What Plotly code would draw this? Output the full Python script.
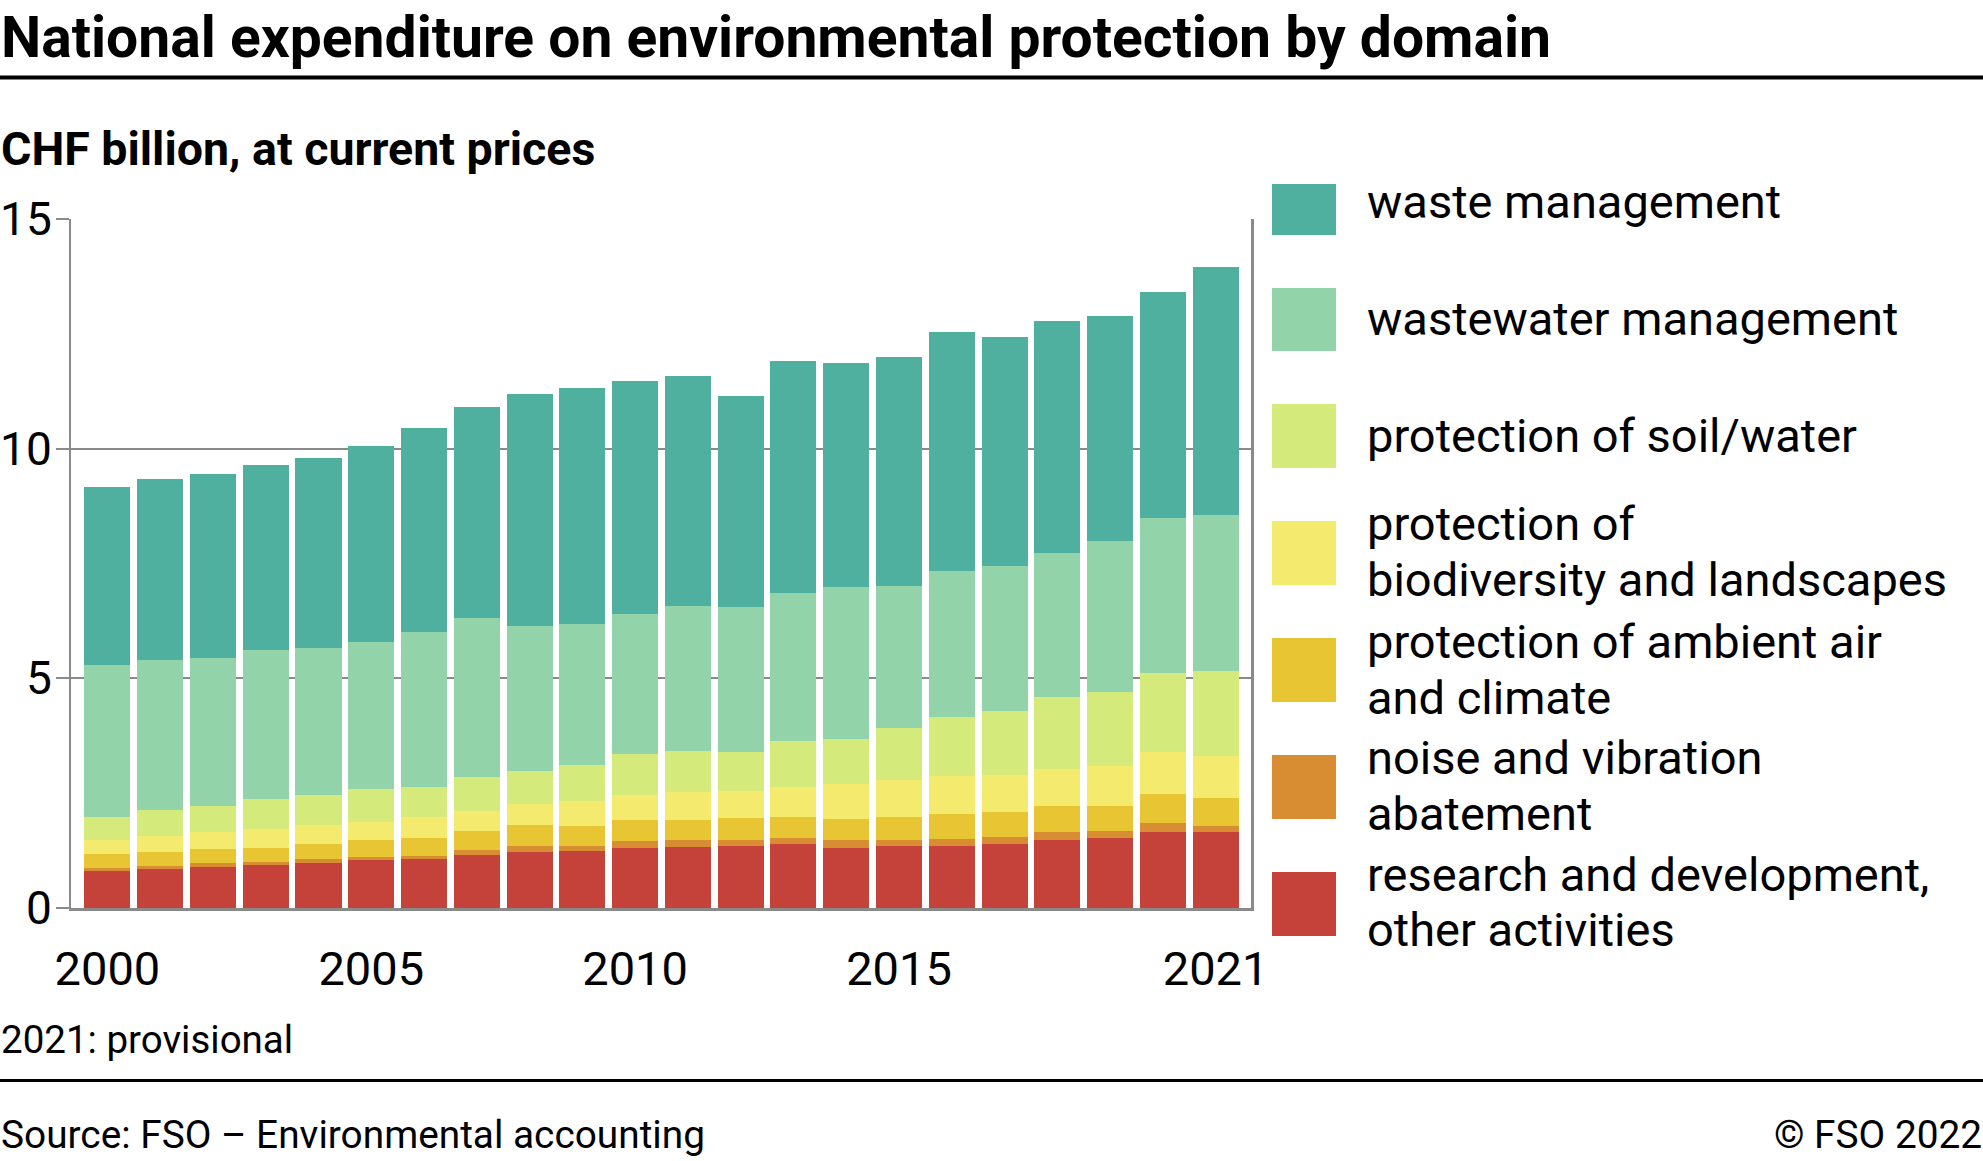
import plotly.graph_objects as go

years = list(range(2000, 2022))

rd = [0.81, 0.86, 0.89, 0.93, 0.99, 1.04, 1.06, 1.16, 1.23, 1.25, 1.31,
      1.32, 1.34, 1.39, 1.30, 1.34, 1.34, 1.39, 1.49, 1.52, 1.65, 1.65]
noise = [0.06, 0.06, 0.08, 0.07, 0.07, 0.07, 0.08, 0.10, 0.11, 0.11, 0.14,
         0.15, 0.15, 0.14, 0.17, 0.15, 0.17, 0.16, 0.17, 0.16, 0.19, 0.14]
air = [0.31, 0.31, 0.32, 0.31, 0.34, 0.36, 0.39, 0.42, 0.47, 0.43, 0.47,
       0.45, 0.48, 0.46, 0.47, 0.50, 0.54, 0.55, 0.55, 0.53, 0.65, 0.61]
biodiv = [0.31, 0.34, 0.37, 0.40, 0.41, 0.41, 0.46, 0.44, 0.46, 0.55, 0.55,
          0.61, 0.58, 0.65, 0.75, 0.80, 0.83, 0.80, 0.82, 0.89, 0.90, 0.90]
soil = [0.50, 0.57, 0.55, 0.67, 0.66, 0.70, 0.65, 0.74, 0.72, 0.78, 0.89,
        0.88, 0.84, 0.99, 1.00, 1.12, 1.28, 1.39, 1.57, 1.61, 1.73, 1.85]
wastewater = [3.30, 3.26, 3.23, 3.24, 3.19, 3.21, 3.37, 3.45, 3.15, 3.06, 3.04,
              3.17, 3.16, 3.23, 3.30, 3.10, 3.18, 3.16, 3.13, 3.28, 3.37, 3.41]
waste = [3.88, 3.94, 4.01, 4.02, 4.14, 4.27, 4.44, 4.60, 5.05, 5.14, 5.07,
         5.00, 4.60, 5.05, 4.88, 4.99, 5.20, 4.98, 5.05, 4.90, 4.92, 5.40]

# bottom -> top stacking order; legend labels split into their printed lines
series_names = [
    "research and development, other activities",
    "noise and vibration abatement",
    "protection of ambient air and climate",
    "protection of biodiversity and landscapes",
    "protection of soil/water",
    "wastewater management",
    "waste management",
]
legend_lines = [
    ["research and development,", "other activities"],
    ["noise and vibration", "abatement"],
    ["protection of ambient air", "and climate"],
    ["protection of", "biodiversity and landscapes"],
    ["protection of soil/water"],
    ["wastewater management"],
    ["waste management"],
]
series_values = [rd, noise, air, biodiv, soil, wastewater, waste]
series_colors = ["#C4423A", "#D98D33", "#E8C532", "#F3EA6E", "#D4EA7B", "#93D3A9", "#50B09F"]

x_ticks = [2000, 2005, 2010, 2015, 2021]

W, H = 1983, 1161
L, R, T, B = 71, 1252, 219, 908


def xp(px):
    return (px - L) / (R - L)


def yp(py):
    return (B - py) / (B - T)


fig = go.Figure()
for name, vals, col in zip(series_names, series_values, series_colors):
    fig.add_trace(go.Bar(x=years, y=vals, name=name, marker_color=col,
                         marker_line_width=0, showlegend=False))

FONT = "Roboto"
fig.update_layout(
    width=W, height=H,
    barmode="stack", bargap=0.128,
    margin=dict(l=L, r=W - R, t=T, b=H - B, pad=0),
    paper_bgcolor="white", plot_bgcolor="white",
    font=dict(family=FONT, color="black", size=47),
    xaxis=dict(range=[1999.31, 2021.69], tickvals=x_ticks,
               ticktext=[str(v) for v in x_ticks], ticks="",
               tickfont=dict(size=47), showline=True, linecolor="#8a8a8a",
               linewidth=3, mirror=False, showgrid=False, zeroline=False,
               ticklabelstandoff=18, automargin=False),
    yaxis=dict(range=[0, 15], tickvals=[0, 5, 10, 15], ticks="outside",
               ticklen=13, tickwidth=2, tickcolor="#8a8a8a",
               tickfont=dict(size=46), showline=True, linecolor="#8a8a8a",
               linewidth=2, mirror=True, showgrid=True, gridcolor="#8a8a8a",
               gridwidth=2, zeroline=False, ticklabelstandoff=-5,
               automargin=False),
)

shapes = []
annotations = []

shapes.append(dict(type="line", xref="paper", yref="paper", x0=xp(0), x1=xp(W),
                   y0=yp(77.5), y1=yp(77.5), line=dict(color="black", width=4)))
shapes.append(dict(type="line", xref="paper", yref="paper", x0=xp(0), x1=xp(W),
                   y0=yp(1080.5), y1=yp(1080.5), line=dict(color="black", width=3)))
shapes.append(dict(type="line", xref="paper", yref="paper", x0=1, x1=1,
                   y0=0, y1=1, line=dict(color="#8a8a8a", width=2)))


def text(t, px, py_base, size, bold=False, xanchor="left"):
    annotations.append(dict(text=t, xref="paper", yref="paper", x=xp(px),
                            y=yp(py_base - 0.37 * size), xanchor=xanchor,
                            yanchor="middle", showarrow=False, align="left",
                            borderpad=0,
                            font=dict(family=FONT, size=size, color="black",
                                      weight="bold" if bold else "normal")))


text("National expenditure on environmental protection by domain", 0, 59, 57, bold=True)
text("CHF billion, at current prices", 0, 166, 46.5, bold=True)
text("2021: provisional", 0, 1054, 38.5)
text("Source: FSO – Environmental accounting", 0, 1149, 38.8)
text("© FSO 2022", W, 1149, 38.8, xanchor="right")

# legend (top -> bottom)
leg_swatches = [(184, 235), (288, 351), (404, 468), (521, 585), (638, 702), (755, 819), (872, 936)]
leg_baselines = [[219], [336], [453], [541, 597], [659, 715], [775, 831], [892, 947]]
for i, idx in enumerate(range(len(series_names) - 1, -1, -1)):
    y0, y1 = leg_swatches[i]
    shapes.append(dict(type="rect", xref="paper", yref="paper", x0=xp(1272), x1=xp(1336),
                       y0=yp(y1), y1=yp(y0), fillcolor=series_colors[idx], line=dict(width=0)))
    for line, base in zip(legend_lines[idx], leg_baselines[i]):
        text(line, 1366, base, 47)

fig.update_layout(shapes=shapes, annotations=annotations)
fig.write_html("out.html", config={"displayModeBar": False},
               post_script="document.body.style.margin='0';document.body.style.overflow='hidden';")
